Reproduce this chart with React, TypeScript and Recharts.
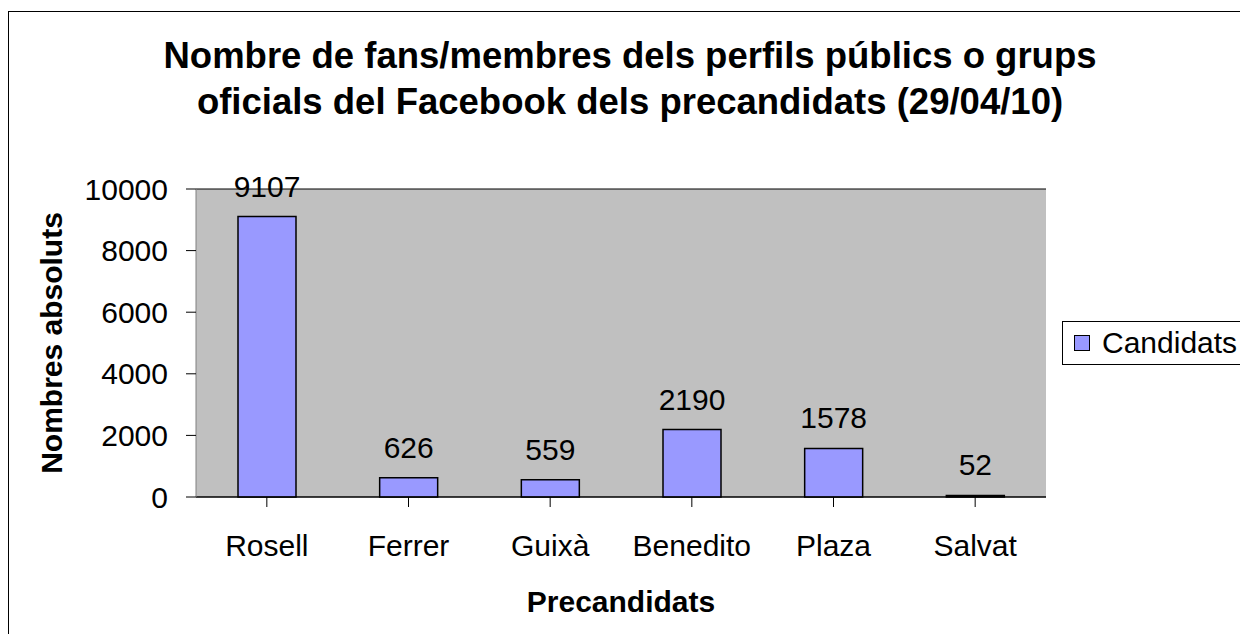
import { BarChart, Bar, XAxis, YAxis, CartesianGrid, LabelList, Legend } from "recharts";

const candidates = ["Rosell", "Ferrer", "Guixà", "Benedito", "Plaza", "Salvat"];
const fans = [9107, 626, 559, 2190, 1578, 52];
const yTicks = [0, 2000, 4000, 6000, 8000, 10000];
const titleLines = [
  "Nombre de fans/membres dels perfils públics o grups",
  "oficials del Facebook dels precandidats (29/04/10)",
];
const seriesName = "Candidats";

const data = candidates.map((name, i) => ({ name, [seriesName]: fans[i] }));

const FONT = '"Liberation Sans", Arial, sans-serif';

function LegendBox() {
  return (
    <div
      style={{
        boxSizing: "border-box",
        width: 190,
        height: 44,
        border: "1px solid #000",
        background: "#fff",
        display: "flex",
        alignItems: "center",
        paddingLeft: 11,
        fontSize: 30,
        color: "#000",
      }}
    >
      <span
        style={{
          display: "inline-block",
          width: 14,
          height: 14,
          background: "#9999ff",
          border: "1px solid #000",
          marginRight: 12,
        }}
      />
      {seriesName}
    </div>
  );
}

export default function App() {
  return (
    <div
      style={{
        position: "absolute",
        left: 0,
        top: 0,
        width: 1240,
        height: 634,
        overflow: "hidden",
        background: "#fff",
        fontFamily: FONT,
      }}
    >
      <div
        style={{
          position: "absolute",
          left: 8,
          top: 11,
          width: 1300,
          height: 700,
          border: "1px solid #000",
        }}
      />
      <div
        style={{
          position: "absolute",
          left: 0,
          top: 33,
          width: 1260,
          textAlign: "center",
          fontSize: 36.5,
          fontWeight: "bold",
          lineHeight: "46px",
          color: "#000",
        }}
      >
        {titleLines.map((t) => (
          <div key={t}>{t}</div>
        ))}
      </div>
      <div style={{ position: "absolute", left: 0, top: 0 }}>
        <BarChart
          width={1240}
          height={634}
          data={data}
          margin={{ top: 189, right: 194, left: 0, bottom: 0 }}
        >
          <CartesianGrid
            vertical={false}
            stroke="#000"
            fill="#c0c0c0"
            fillOpacity={1}
          />
          <XAxis
            dataKey="name"
            height={137}
            tickSize={10}
            tickMargin={28}
            tick={{ fill: "#000", fontSize: 30 }}
            axisLine={{ stroke: "#000" }}
            tickLine={{ stroke: "#000" }}
            label={{
              value: "Precandidats",
              position: "insideBottom",
              offset: 22,
              fill: "#000",
              fontSize: 30,
              fontWeight: "bold",
            }}
          />
          <YAxis
            yAxisId="left"
            width={196}
            domain={[0, 10000]}
            ticks={yTicks}
            tickSize={10}
            tickMargin={18}
            tick={{ fill: "#000", fontSize: 30 }}
            axisLine={{ stroke: "#808080" }}
            tickLine={{ stroke: "#000" }}
            label={{
              value: "Nombres absoluts",
              angle: -90,
              position: "insideLeft",
              offset: 51,
              fill: "#000",
              fontSize: 30,
              fontWeight: "bold",
              style: { textAnchor: "middle" },
            }}
          />
          <YAxis
            yAxisId="right"
            orientation="right"
            width={0}
            domain={[0, 10000]}
            tick={false}
            tickLine={false}
            axisLine={{ stroke: "#808080" }}
          />
          <Legend
            layout="horizontal"
            verticalAlign="middle"
            align="center"
            wrapperStyle={{ left: 1062, top: 321, width: 190, height: 44 }}
            content={() => <LegendBox />}
          />
          <Bar
            yAxisId="left"
            dataKey={seriesName}
            fill="#9999ff"
            stroke="#000"
            strokeWidth={1.5}
            barSize={58}
            isAnimationActive={false}
          >
            <LabelList
              dataKey={seriesName}
              position="top"
              offset={20}
              fill="#000"
              fontSize={30}
            />
          </Bar>
        </BarChart>
      </div>
    </div>
  );
}
